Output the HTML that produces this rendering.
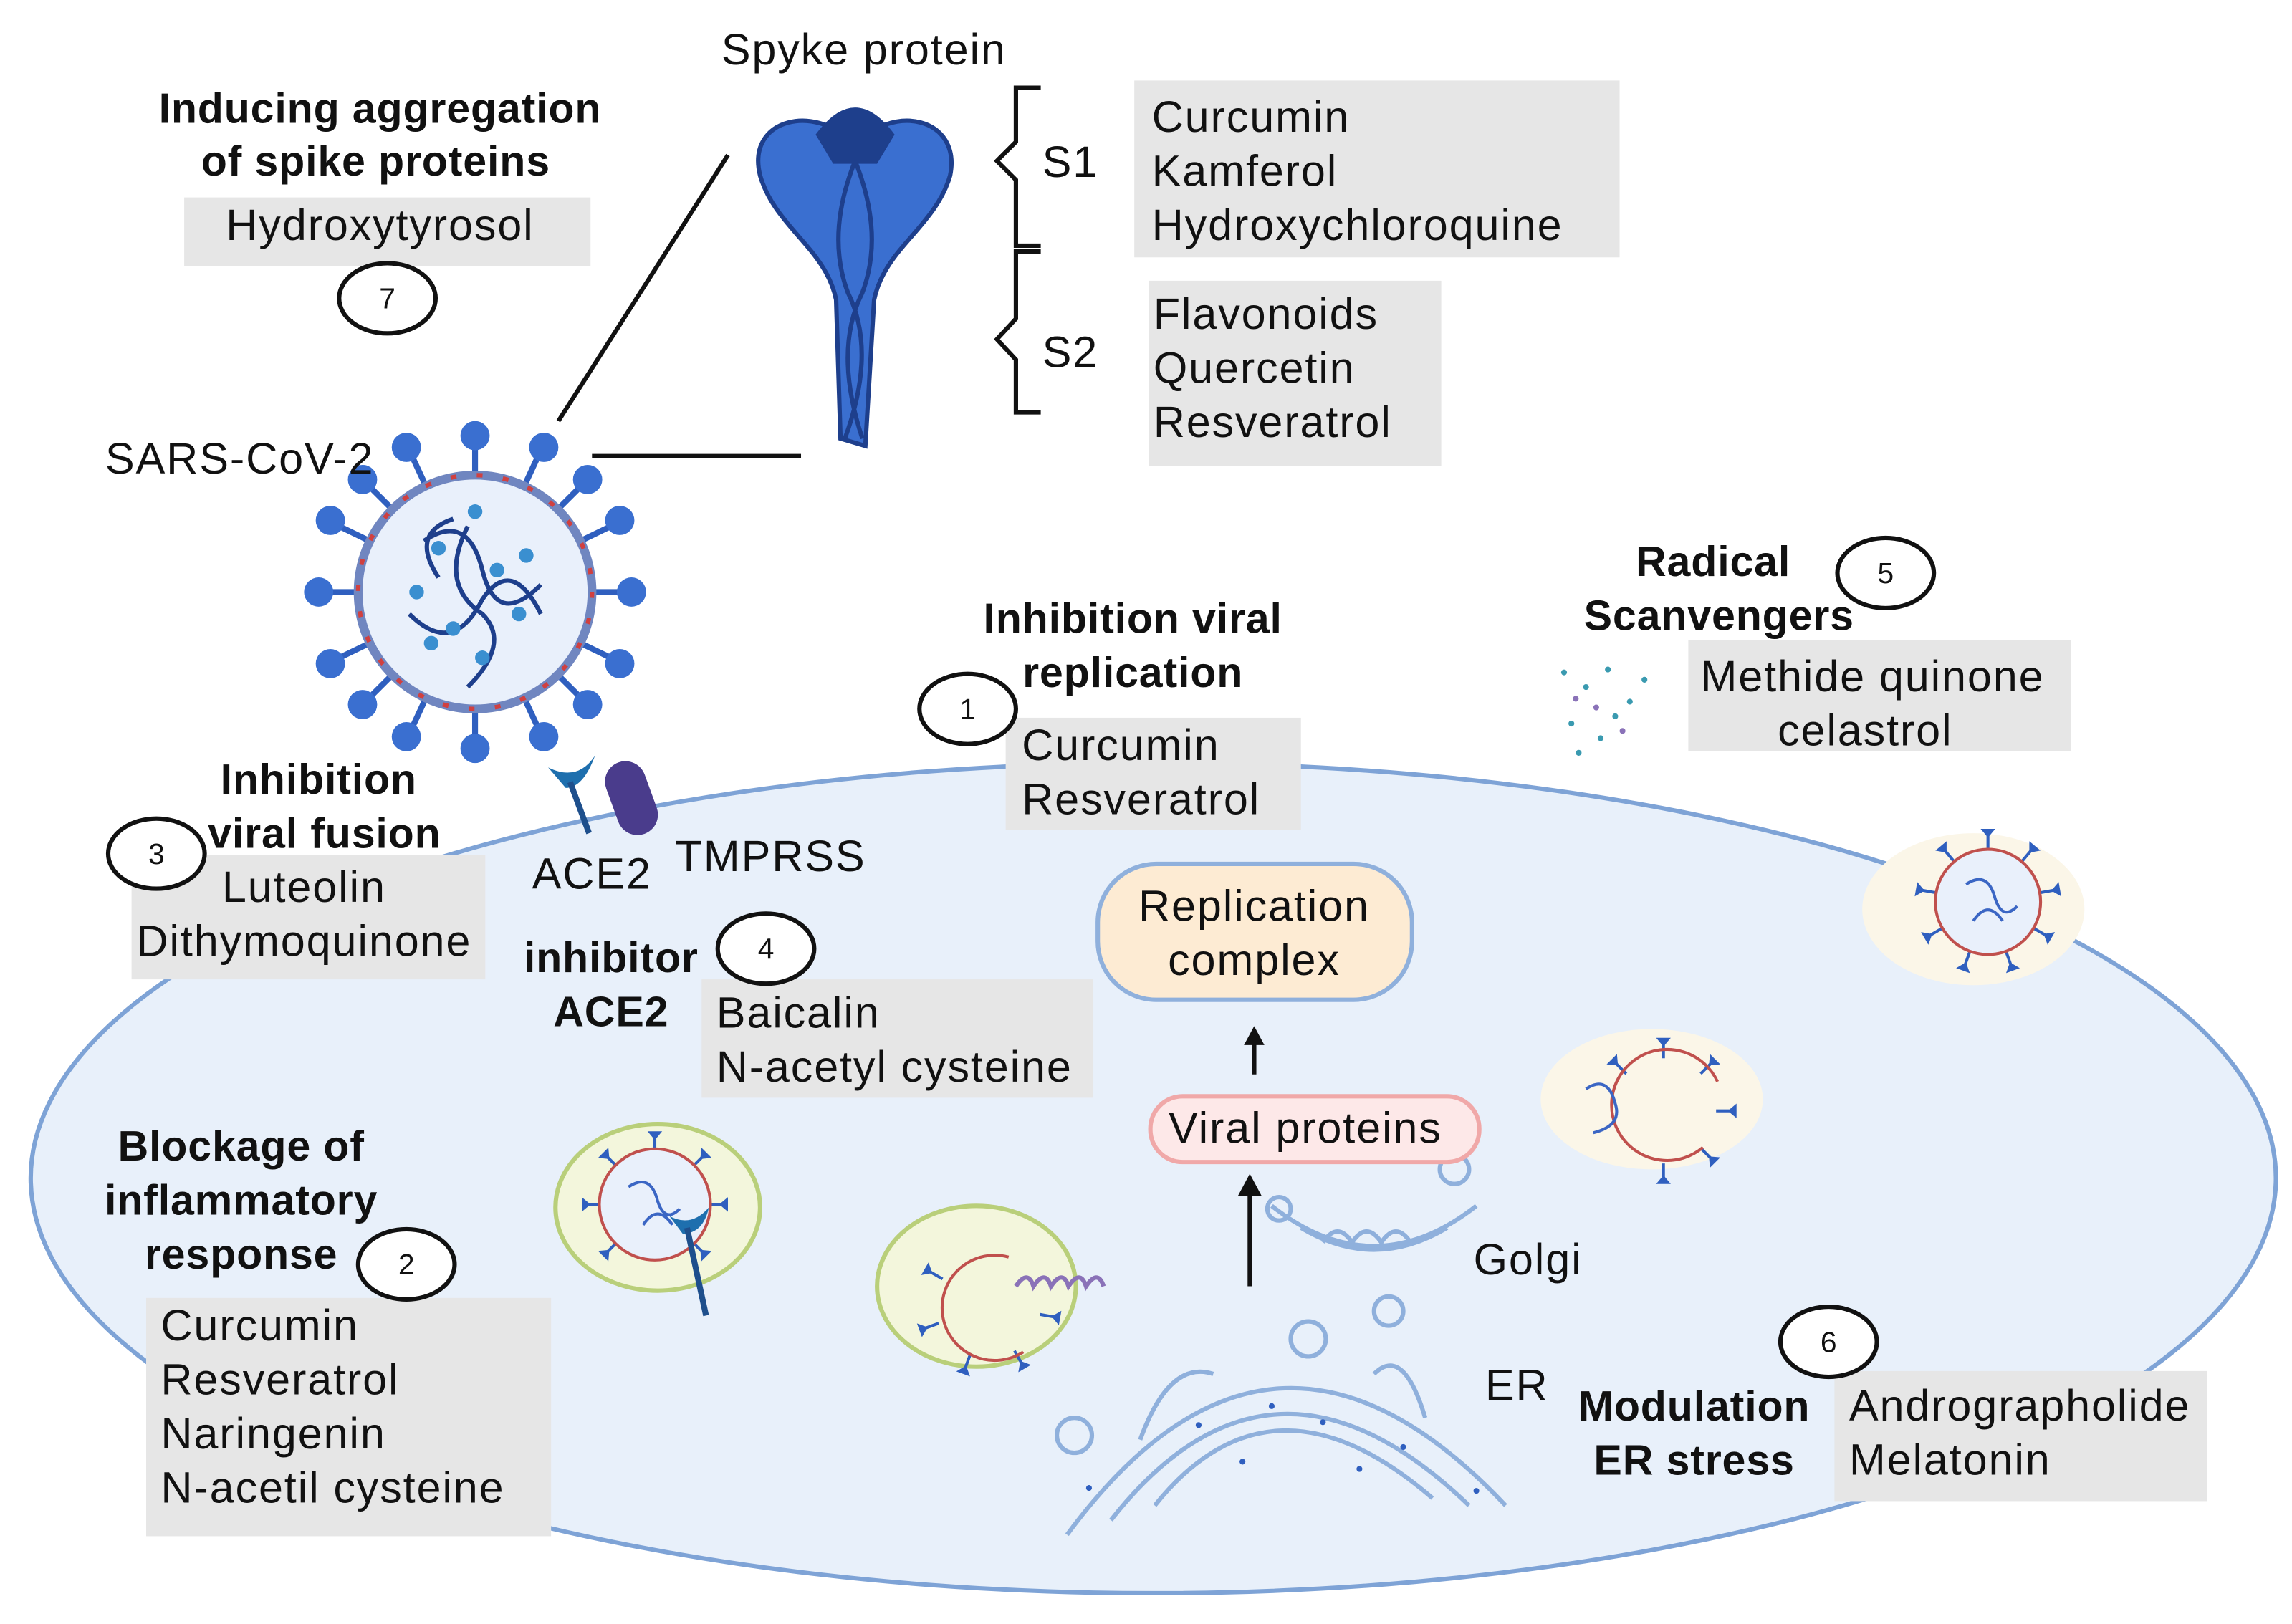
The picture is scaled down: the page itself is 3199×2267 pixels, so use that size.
<!DOCTYPE html>
<html><head><meta charset="utf-8"><style>
html,body{margin:0;padding:0;background:#fff;}
svg{display:block;}
text{font-family:"Liberation Sans",sans-serif;fill:#111;}
.t{font-size:30px;letter-spacing:0.9px;}
.b{font-size:29px;font-weight:bold;letter-spacing:0.4px;}
</style></head><body>
<svg width="3199" height="2267" viewBox="0 0 1568 1111" xmlns="http://www.w3.org/2000/svg">
<defs>
<g id="sp"><line x1="0" y1="-36" x2="0" y2="-46" stroke="#2f5fbf" stroke-width="2"/><path d="M-5 -50 L5 -50 L0 -44Z" fill="#2f5fbf"/></g>
</defs>
<rect width="1568" height="1111" fill="#fff"/>
<ellipse cx="789" cy="806" rx="768" ry="284" fill="#e8f0fa" stroke="#7ea3d6" stroke-width="3"/>
<ellipse cx="1350" cy="622" rx="76" ry="52" fill="#fbf6e8"/>
<ellipse cx="1130" cy="752" rx="76" ry="48" fill="#fbf6e8"/>
<ellipse cx="450" cy="826" rx="70" ry="57" fill="#f3f6dc" stroke="#b9cf7a" stroke-width="3"/>
<ellipse cx="668" cy="880" rx="68" ry="55" fill="#f3f6dc" stroke="#b9cf7a" stroke-width="3"/>
<g transform="translate(1360 617)"><use href="#sp"/><use href="#sp" transform="rotate(40)"/><use href="#sp" transform="rotate(80)"/><use href="#sp" transform="rotate(120)"/><use href="#sp" transform="rotate(160)"/><use href="#sp" transform="rotate(200)"/><use href="#sp" transform="rotate(240)"/><use href="#sp" transform="rotate(280)"/><use href="#sp" transform="rotate(320)"/></g>
<g transform="translate(448 824)"><use href="#sp"/><use href="#sp" transform="rotate(45)"/><use href="#sp" transform="rotate(90)"/><use href="#sp" transform="rotate(135)"/><use href="#sp" transform="rotate(225)"/><use href="#sp" transform="rotate(270)"/><use href="#sp" transform="rotate(315)"/></g>
<g transform="translate(1138 760)"><use href="#sp"/><use href="#sp" transform="rotate(45)"/><use href="#sp" transform="rotate(90)"/><use href="#sp" transform="rotate(135)"/><use href="#sp" transform="rotate(180)"/><use href="#sp" transform="rotate(315)"/></g>
<g transform="translate(676 893)"><use href="#sp" transform="rotate(-60)"/><use href="#sp" transform="rotate(-110)"/><use href="#sp" transform="rotate(-160)"/><use href="#sp" transform="rotate(150)"/><use href="#sp" transform="rotate(100)"/></g>
<g fill="none" stroke="#3b66c4" stroke-width="2">
<circle cx="1360" cy="617" r="36" stroke="#c0504d" fill="#e9f0fb"/>
<circle cx="448" cy="824" r="38" stroke="#c0504d" fill="#e9f0fb"/>
<path d="M1175 740 A38 38 0 1 0 1165 785" stroke="#c0504d"/>
<path d="M690 860 A36 36 0 1 0 700 925" stroke="#c0504d"/>
<path d="M1345 605 q15 -10 20 10 q5 15 15 5 M1350 630 q10 -15 20 0 M1085 745 q15 -10 20 10 q5 15 -15 20 M430 812 q15 -10 20 10 q5 15 15 5 M440 838 q10 -15 20 0"/>
<path d="M695 880 q8 -12 12 0 q8 -12 12 0 q8 -12 12 0 q8 -12 12 0 q8 -12 12 0" stroke="#8a72b8" stroke-width="3"/>
</g>
<path d="M458 832 q15 8 27 -6 q-4 18 -18 18Z" fill="#1e6fae"/>
<path d="M470 840 L483 900" stroke="#1e4f8c" stroke-width="4"/>
<g fill="none" stroke="#8fb0dc" stroke-width="3">
<path d="M730 1050 Q870 860 1030 1030"/>
<path d="M760 1040 Q870 900 1005 1030"/>
<path d="M790 1030 Q870 930 980 1025"/>
<path d="M780 985 Q800 930 830 940 M940 940 Q960 920 975 970"/>
<circle cx="735" cy="982" r="12"/><circle cx="895" cy="916" r="12"/><circle cx="950" cy="897" r="10"/>
<path d="M870 825 Q940 880 1010 825"/><path d="M890 840 Q940 870 990 840"/><path d="M905 850 q10 -15 20 0 q10 -15 20 0 q10 -15 20 0"/>
<circle cx="875" cy="827" r="8"/><circle cx="995" cy="800" r="10"/>
</g>
<g fill="#2f5fbf"><circle cx="745" cy="1018" r="2"/><circle cx="820" cy="975" r="2"/><circle cx="870" cy="962" r="2"/><circle cx="905" cy="973" r="2"/><circle cx="960" cy="990" r="2"/><circle cx="1010" cy="1020" r="2"/><circle cx="850" cy="1000" r="2"/><circle cx="930" cy="1005" r="2"/></g>
<line x1="855" y1="880" x2="855" y2="815" stroke="#111" stroke-width="3"/>
<path d="M847 818 L855 803 L863 818Z" fill="#111"/>
<line x1="858" y1="735" x2="858" y2="712" stroke="#111" stroke-width="3"/>
<path d="M851 715 L858 702 L865 715Z" fill="#111"/>
<rect x="751" y="591" width="215" height="93" rx="40" fill="#fdebd3" stroke="#8fb0dc" stroke-width="3"/>
<text class="t" x="858" y="630" text-anchor="middle">Replication</text>
<text class="t" x="858" y="667" text-anchor="middle">complex</text>
<rect x="787" y="750" width="225" height="45" rx="22" fill="#fde8e8" stroke="#f0a8a8" stroke-width="3"/>
<text class="t" x="893" y="782" text-anchor="middle">Viral proteins</text>
<text class="t" x="1008" y="872">Golgi</text>
<text class="t" x="1016" y="958">ER</text>
<!-- virus main -->
<g stroke="#2f5fbf" stroke-width="4">
<line x1="325" y1="405" x2="325" y2="300"/><line x1="325" y1="405" x2="325" y2="510"/>
<line x1="325" y1="405" x2="220" y2="405"/><line x1="325" y1="405" x2="430" y2="405"/>
<line x1="325" y1="405" x2="250" y2="330"/><line x1="325" y1="405" x2="400" y2="330"/>
<line x1="325" y1="405" x2="250" y2="480"/><line x1="325" y1="405" x2="400" y2="480"/>
<line x1="325" y1="405" x2="228" y2="358"/><line x1="325" y1="405" x2="422" y2="358"/>
<line x1="325" y1="405" x2="228" y2="452"/><line x1="325" y1="405" x2="422" y2="452"/>
<line x1="325" y1="405" x2="280" y2="308"/><line x1="325" y1="405" x2="370" y2="308"/>
<line x1="325" y1="405" x2="280" y2="502"/><line x1="325" y1="405" x2="370" y2="502"/>
</g>
<g fill="#3a6fd0">
<circle cx="325" cy="298" r="10"/><circle cx="325" cy="512" r="10"/><circle cx="218" cy="405" r="10"/><circle cx="432" cy="405" r="10"/>
<circle cx="248" cy="328" r="10"/><circle cx="402" cy="328" r="10"/><circle cx="248" cy="482" r="10"/><circle cx="402" cy="482" r="10"/>
<circle cx="226" cy="356" r="10"/><circle cx="424" cy="356" r="10"/><circle cx="226" cy="454" r="10"/><circle cx="424" cy="454" r="10"/>
<circle cx="278" cy="306" r="10"/><circle cx="372" cy="306" r="10"/><circle cx="278" cy="504" r="10"/><circle cx="372" cy="504" r="10"/>
</g>
<circle cx="325" cy="405" r="80" fill="#e9f0fb" stroke="#7086c0" stroke-width="6"/>
<circle cx="325" cy="405" r="80" fill="none" stroke="#d04040" stroke-width="3" stroke-dasharray="4 14"/>
<g fill="none" stroke="#1e3f8c" stroke-width="3"><path d="M290 370 q30 -20 40 20 q10 40 40 10 M280 420 q30 30 50 -10 q20 -30 40 10 M320 360 q-20 40 10 60 q20 20 -10 50 M300 395 q-20 -30 10 -40"/></g>
<g fill="#3a8fd0"><circle cx="300" cy="375" r="5"/><circle cx="340" cy="390" r="5"/><circle cx="310" cy="430" r="5"/><circle cx="355" cy="420" r="5"/><circle cx="330" cy="450" r="5"/><circle cx="325" cy="350" r="5"/><circle cx="285" cy="405" r="5"/><circle cx="360" cy="380" r="5"/><circle cx="295" cy="440" r="5"/></g>
<line x1="382" y1="288" x2="498" y2="106" stroke="#111" stroke-width="3"/>
<line x1="405" y1="312" x2="548" y2="312" stroke="#111" stroke-width="3"/>
<!-- spike -->
<path d="M585 100 C560 70 510 80 520 120 C530 155 565 170 572 205 L575 300 L592 305 L598 205 C605 170 640 155 650 120 C658 80 610 70 585 100Z" fill="#3a6fd0" stroke="#1e3f8c" stroke-width="3"/>
<path d="M558 92 Q585 55 612 92 L600 112 L570 112Z" fill="#1e3f8c"/>
<path d="M585 110 Q565 160 580 200 Q600 240 578 300 M585 110 Q605 160 590 200 Q570 240 590 300" fill="none" stroke="#1e3f8c" stroke-width="3"/>
<path d="M712 60 L695 60 L695 97 L682 110 L695 123 L695 168 L712 168 M712 172 L695 172 L695 218 L682 232 L695 246 L695 282 L712 282" fill="none" stroke="#111" stroke-width="3"/>
<text class="t" x="713" y="121">S1</text>
<text class="t" x="713" y="251">S2</text>
<path d="M375 525 q20 10 32 -8 q-8 22 -20 22Z" fill="#1e6fae"/>
<line x1="390" y1="535" x2="403" y2="570" stroke="#1e4f8c" stroke-width="4"/>
<rect x="418" y="520" width="28" height="52" rx="14" fill="#4a3c8c" transform="rotate(-20 432 546)"/>
<g fill="#3a9ab0"><circle cx="1070" cy="460" r="2"/><circle cx="1085" cy="470" r="2"/><circle cx="1100" cy="458" r="2"/><circle cx="1115" cy="480" r="2"/><circle cx="1075" cy="495" r="2"/><circle cx="1095" cy="505" r="2"/><circle cx="1125" cy="465" r="2"/><circle cx="1080" cy="515" r="2"/><circle cx="1105" cy="490" r="2"/></g>
<g fill="#8a72b8"><circle cx="1078" cy="478" r="2"/><circle cx="1110" cy="500" r="2"/><circle cx="1092" cy="484" r="2"/></g>
<g fill="#e6e6e6">
<rect x="126" y="135" width="278" height="47"/>
<rect x="776" y="55" width="332" height="121"/>
<rect x="786" y="192" width="200" height="127"/>
<rect x="1155" y="438" width="262" height="76"/>
<rect x="688" y="491" width="202" height="77"/>
<rect x="90" y="585" width="242" height="85"/>
<rect x="480" y="670" width="268" height="81"/>
<rect x="100" y="888" width="277" height="163"/>
<rect x="1255" y="938" width="255" height="89"/>
</g>
<text class="t" x="591" y="44" text-anchor="middle">Spyke protein</text>
<text class="b" x="260" y="84" text-anchor="middle">Inducing aggregation</text>
<text class="b" x="257" y="120" text-anchor="middle">of spike proteins</text>
<text class="t" x="260" y="164" text-anchor="middle">Hydroxytyrosol</text>
<text class="t" x="788" y="90">Curcumin</text>
<text class="t" x="788" y="127">Kamferol</text>
<text class="t" x="788" y="164">Hydroxychloroquine</text>
<text class="t" x="789" y="225">Flavonoids</text>
<text class="t" x="789" y="262">Quercetin</text>
<text class="t" x="789" y="299">Resveratrol</text>
<text class="t" x="72" y="324">SARS-CoV-2</text>
<text class="b" x="1172" y="394" text-anchor="middle">Radical</text>
<text class="b" x="1176" y="431" text-anchor="middle">Scanvengers</text>
<text class="t" x="1281" y="473" text-anchor="middle">Methide quinone</text>
<text class="t" x="1276" y="510" text-anchor="middle">celastrol</text>
<text class="b" x="775" y="433" text-anchor="middle">Inhibition viral</text>
<text class="b" x="775" y="470" text-anchor="middle">replication</text>
<text class="t" x="699" y="520">Curcumin</text>
<text class="t" x="699" y="557">Resveratrol</text>
<text class="b" x="218" y="543" text-anchor="middle">Inhibition</text>
<text class="b" x="222" y="580" text-anchor="middle">viral fusion</text>
<text class="t" x="208" y="617" text-anchor="middle">Luteolin</text>
<text class="t" x="208" y="654" text-anchor="middle">Dithymoquinone</text>
<text class="t" x="364" y="608">ACE2</text>
<text class="t" x="462" y="596">TMPRSS</text>
<text class="b" x="418" y="665" text-anchor="middle">inhibitor</text>
<text class="b" x="418" y="702" text-anchor="middle">ACE2</text>
<text class="t" x="490" y="703">Baicalin</text>
<text class="t" x="490" y="740">N-acetyl cysteine</text>
<text class="b" x="165" y="794" text-anchor="middle">Blockage of</text>
<text class="b" x="165" y="831" text-anchor="middle">inflammatory</text>
<text class="b" x="165" y="868" text-anchor="middle">response</text>
<text class="t" x="110" y="917">Curcumin</text>
<text class="t" x="110" y="954">Resveratrol</text>
<text class="t" x="110" y="991">Naringenin</text>
<text class="t" x="110" y="1028">N-acetil cysteine</text>
<text class="b" x="1159" y="972" text-anchor="middle">Modulation</text>
<text class="b" x="1159" y="1009" text-anchor="middle">ER stress</text>
<text class="t" x="1265" y="972">Andrographolide</text>
<text class="t" x="1265" y="1009">Melatonin</text>
<g fill="#fff" stroke="#111" stroke-width="3">
<ellipse cx="265" cy="204" rx="33" ry="24"/>
<ellipse cx="1290" cy="392" rx="33" ry="24"/>
<ellipse cx="662" cy="485" rx="33" ry="24"/>
<ellipse cx="107" cy="584" rx="33" ry="24"/>
<ellipse cx="524" cy="649" rx="33" ry="24"/>
<ellipse cx="278" cy="865" rx="33" ry="24"/>
<ellipse cx="1251" cy="918" rx="33" ry="24"/>
</g>
<g font-size="20" text-anchor="middle">
<text x="265" y="211">7</text><text x="1290" y="399">5</text><text x="662" y="492">1</text>
<text x="107" y="591">3</text><text x="524" y="656">4</text><text x="278" y="872">2</text><text x="1251" y="925">6</text>
</g>
</svg>
</body></html>
